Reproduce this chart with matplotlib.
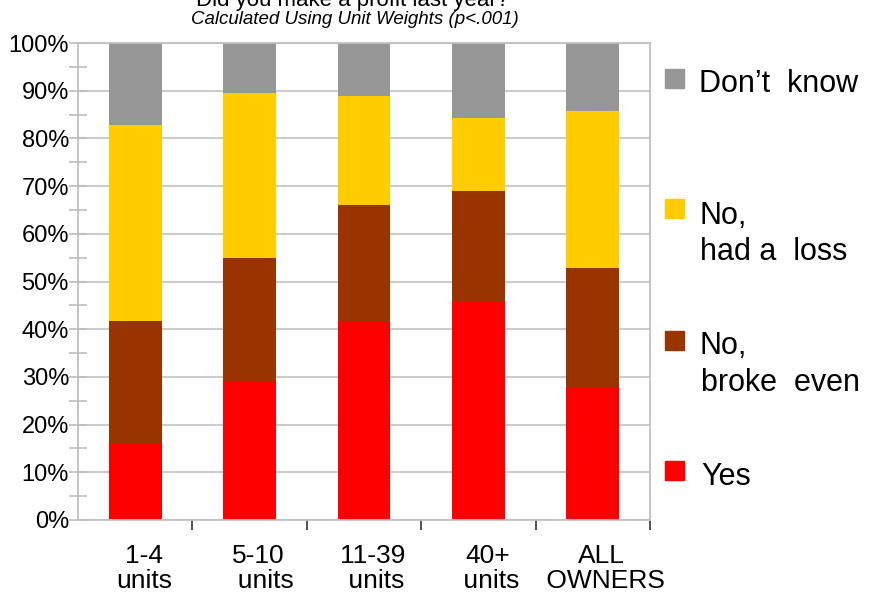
import numpy as np
import matplotlib
matplotlib.use("Agg")
import matplotlib.pyplot as plt
from matplotlib.patches import Rectangle
from matplotlib.ticker import MultipleLocator, FixedLocator, PercentFormatter
import matplotlib.transforms as mtransforms

plt.rcParams['font.family'] = ['Liberation Sans', 'DejaVu Sans']

# share of owners per answer, stacked bottom to top
groups = ["1-4\nunits", "5-10\n  units", "11-39\n units", "40+\n units", "ALL\n OWNERS"]
yes = [16.1, 28.9, 41.6, 45.6, 27.7]
broke_even = [25.7, 26.0, 24.4, 23.3, 25.2]
had_loss = [41.0, 34.6, 22.9, 15.4, 32.8]
dont_know = [17.2, 10.5, 11.1, 15.7, 14.3]

series = [yes, broke_even, had_loss, dont_know]
colors = ["#ff0000", "#993300", "#ffcc00", "#969696"]

W, H = 871, 593
fig = plt.figure(figsize=(W / 100, H / 100), dpi=100)
ax = fig.add_axes([78 / W, 1 - 520 / H, (650 - 78) / W, (520 - 43) / H])

x = np.arange(len(groups))
bottom = np.zeros(len(groups))
for vals, c in zip(series, colors):
    ax.bar(x, vals, width=0.46, bottom=bottom, color=c, zorder=2)
    bottom += np.array(vals)

ax.set_xlim(-0.5, len(groups) - 0.5)
ax.set_ylim(0, 100)

# y axis: percent ticks, light grey grid
ax.yaxis.set_major_locator(MultipleLocator(10))
ax.yaxis.set_minor_locator(MultipleLocator(5))
ax.yaxis.set_major_formatter(PercentFormatter(decimals=0))
ax.grid(axis='y', color='#cccccc', linewidth=1.5, zorder=0)
ax.set_axisbelow(True)
ax.tick_params(axis='y', which='both', direction='inout', color='#bdbdbd',
               width=1.2, labelsize=17, pad=0)
ax.tick_params(axis='y', which='major', length=13)
ax.tick_params(axis='y', which='minor', length=13)

# x axis: labels at bars, dark ticks between categories
ax.set_xticks(x)
ax.set_xticklabels(groups, fontsize=19, linespacing=1.05)
ax.xaxis.set_minor_locator(FixedLocator(np.arange(0.5, len(groups), 1.0)))
ax.tick_params(axis='x', which='major', length=0, pad=17)
ax.tick_params(axis='x', which='minor', length=7, width=1.2, color='#333333')
shift = mtransforms.ScaledTranslation(9 / 100, 0, fig.dpi_scale_trans)
for lab in ax.get_xticklabels():
    lab.set_transform(lab.get_transform() + shift)

for s in ax.spines.values():
    s.set_color('#c0c0c0')
    s.set_linewidth(1.3)

fig.text(353 / W, 1 - 6 / H, "Did you make a profit last year?", ha='center',
         va='baseline', fontsize=16)
fig.text(355 / W, 1 - 24 / H, "Calculated Using Unit Weights (p<.001)", ha='center',
         va='baseline', fontsize=13.5, style='italic')

# legend drawn as squares and text lines on the right
leg_boxes = [(69, "#969696"), (199, "#ffcc00"), (331, "#993300"), (461, "#ff0000")]
for top, c in leg_boxes:
    fig.add_artist(Rectangle((665 / W, 1 - (top + 19) / H), 19 / W, 19 / H,
                             transform=fig.transFigure, color=c))
leg_lines = [(699, 92, "Don\u2019t  know"), (699, 224, "No,"), (700, 260, "had a  loss"),
             (699, 354, "No,"), (701, 391, "broke  even"), (701, 485, "Yes")]
for lx, ly, txt in leg_lines:
    fig.text(lx / W, 1 - ly / H, txt, ha='left', va='baseline', fontsize=22)

fig.savefig("out.png", dpi=100)
